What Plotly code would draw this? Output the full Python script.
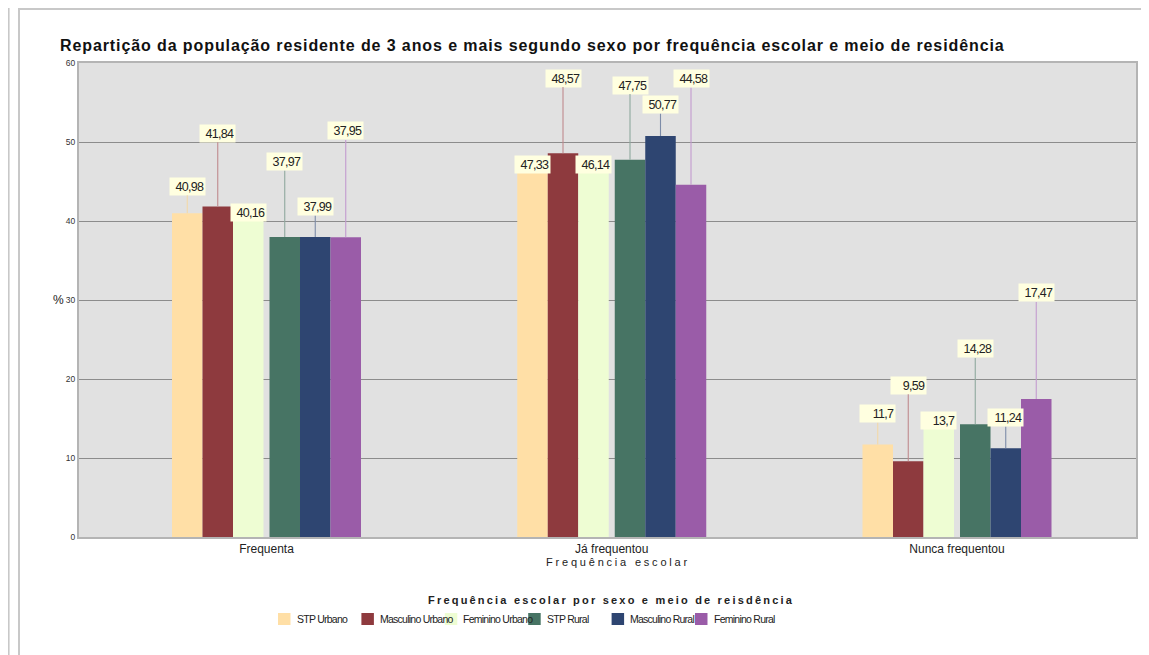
import plotly.graph_objects as go

# ---- data ----
categories = ["Frequenta", "Já frequentou", "Nunca frequentou"]
series_names = ["STP Urbano", "Masculino Urbano", "Feminino Urbano",
                "STP Rural", "Masculino Rural", "Feminino Rural"]
stp_urbano = [40.98, 47.33, 11.7]
masc_urbano = [41.84, 48.57, 9.59]
fem_urbano = [40.16, 46.14, 13.7]
stp_rural = [37.97, 47.75, 14.28]
masc_rural = [37.99, 50.77, 11.24]
fem_rural = [37.95, 44.58, 17.47]
series_values = [stp_urbano, masc_urbano, fem_urbano, stp_rural, masc_rural, fem_rural]

# ---- label placement (callout heights, in axis units) ----
label_heights = [
    [44.4, 47.2, 15.6],
    [51.1, 58.1, 19.2],
    [41.1, 47.2, 14.7],
    [47.5, 57.2, 23.8],
    [41.8, 54.7, 15.1],
    [51.4, 58.0, 30.9],
]

# ---- styles ----
bar_colors = ["#FFDFA6", "#8E3A3E", "#EEFDD3", "#477464", "#2E4571", "#9A5CA8"]
line_colors = ["#F3D9A8", "#C08A8E", "#E3EEC8", "#8FA99E", "#7D8CA8", "#C39BCF"]
REG = "Liberation Sans, Arial, sans-serif"

OFF = 8  # page body margin
W, H = 1149 - OFF, 655 - OFF
# plot area in reference pixels
REF_L, REF_R, REF_T, REF_B = 79, 1136, 63, 537
L = REF_L - OFF
T = REF_T - OFF
R = W - (REF_R - OFF)
B = H - (REF_B - OFF)
plot_w = W - L - R
plot_h = H - T - B

px_per_unit = 345.25
first_center_ref = 266.5
x_min = -(first_center_ref - REF_L) / px_per_unit
x_max = x_min + plot_w / px_per_unit

bar_px = 30.5
mid_gap_px = 6
centers_px = []
for j in range(6):
    if j < 3:
        c = -(mid_gap_px / 2 + (2.5 - j) * bar_px)
    else:
        c = mid_gap_px / 2 + (j - 3 + 0.5) * bar_px
    centers_px.append(c)
bar_w = bar_px / px_per_unit
offsets = [c / px_per_unit for c in centers_px]

xs = list(range(len(categories)))


def px_x(p):
    """reference pixel x -> paper x"""
    return (p - REF_L) / plot_w


def px_y(p):
    """reference pixel y -> paper y"""
    return (REF_B - p) / plot_h


def spaced(text, px):
    return '<span style="letter-spacing:%spx">%s</span>' % (px, text)


fig = go.Figure()
annotations = []
for j, name in enumerate(series_names):
    fig.add_trace(go.Bar(
        name=name,
        x=xs,
        y=series_values[j],
        width=bar_w,
        offset=offsets[j] - bar_w / 2,
        marker=dict(color=bar_colors[j], line=dict(width=0)),
        hoverinfo="y+name",
        showlegend=False,
    ))
    for i, v in enumerate(series_values[j]):
        xc = xs[i] + offsets[j]
        annotations.append(dict(
            x=xc, y=v, xref="x", yref="y",
            ax=xc, ay=label_heights[j][i], axref="x", ayref="y",
            text=spaced(str(v).replace(".", ","), -0.7),
            showarrow=True, arrowhead=0, arrowwidth=1.1,
            arrowcolor=line_colors[j],
            bgcolor="#FFFFE0", borderpad=1,
            width=33, align="right", height=15,
            font=dict(family=REG, size=12.5, color="#222222"),
        ))

# manual legend (swatches + names), reference pixel placement
leg_x0 = 278
leg_step = 83.4
leg_y = 619
shapes = []
for j, name in enumerate(series_names):
    sx = leg_x0 + j * leg_step
    shapes.append(dict(type="rect", xref="paper", yref="paper",
                       x0=px_x(sx), x1=px_x(sx + 12.5),
                       y0=px_y(leg_y + 6), y1=px_y(leg_y - 6),
                       fillcolor=bar_colors[j], line=dict(width=0), layer="above"))
    annotations.append(dict(text=spaced(name, -0.75), x=px_x(sx + 16.5), y=px_y(leg_y),
                            xref="paper", yref="paper", xanchor="left", yanchor="middle",
                            showarrow=False,
                            font=dict(family=REG, size=10.5, color="#222222")))

annotations += [
    dict(text="%", x=px_x(58), y=px_y(300), xref="paper", yref="paper",
         xanchor="center", yanchor="middle",
         showarrow=False, font=dict(family=REG, size=12, color="#222222")),
    dict(text=spaced("Frequência escolar", 2.8),
         x=px_x(618), y=px_y(562), xref="paper", yref="paper",
         xanchor="center", yanchor="middle",
         showarrow=False, font=dict(family=REG, size=11, color="#222222")),
    dict(text="<b>" + spaced("Frequência escolar por sexo e meio de reisdência", 2.2) + "</b>",
         x=px_x(611), y=px_y(600), xref="paper", yref="paper",
         xanchor="center", yanchor="middle",
         showarrow=False, font=dict(family=REG, size=11, color="#222222")),
]

frame_color = "#C8C8C8"
shapes += [
    dict(type="line", xref="paper", yref="paper", x0=px_x(8.6), x1=px_x(8.6),
         y0=px_y(0), y1=px_y(655), line=dict(color=frame_color, width=2)),
    dict(type="line", xref="paper", yref="paper", x0=px_x(19), x1=px_x(19),
         y0=px_y(9), y1=px_y(655), line=dict(color=frame_color, width=2)),
    dict(type="line", xref="paper", yref="paper", x0=px_x(18), x1=px_x(1149),
         y0=px_y(9), y1=px_y(9), line=dict(color=frame_color, width=2)),
]

fig.update_layout(
    width=W, height=H,
    margin=dict(l=L, r=R, t=T, b=B),
    paper_bgcolor="white",
    plot_bgcolor="#E1E1E1",
    barmode="overlay",
    showlegend=False,
    font=dict(family=REG, color="#222222"),
    title=dict(
        text="<b>" + spaced("Repartição da população residente de 3 anos e mais segundo sexo por frequência escolar e meio de residência", 0.9) + "</b>",
        x=(60 - OFF) / W, xanchor="left", y=1 - (45 - OFF) / H, yanchor="middle",
        font=dict(family=REG, size=16, color="#111111"),
    ),
    xaxis=dict(
        range=[x_min, x_max],
        tickvals=xs, ticktext=categories,
        showgrid=False, zeroline=False,
        showline=True, linecolor="#B4B4B4", linewidth=2, mirror=True,
        ticks="", tickfont=dict(family=REG, size=12, color="#222222"),
        ticklabelstandoff=0,
    ),
    yaxis=dict(
        range=[0, 60], dtick=10,
        showgrid=True, gridcolor="#8C8C8C", gridwidth=1,
        zeroline=False,
        showline=True, linecolor="#B4B4B4", linewidth=2, mirror=True,
        ticks="", tickfont=dict(family=REG, size=8.5, color="#333333"),
        ticklabelstandoff=0,
    ),
    annotations=annotations,
    shapes=shapes,
)

fig.write_html("out.html")
